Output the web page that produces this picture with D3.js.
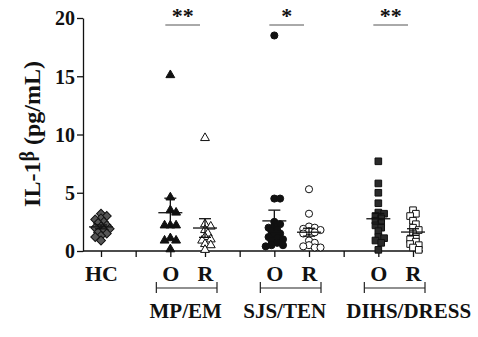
<!DOCTYPE html>
<html>
<head>
<meta charset="utf-8">
<script src="https://cdn.jsdelivr.net/npm/d3@7"></script>
<style>
  body { margin: 0; background: #fff; }
  text { font-family: "Liberation Serif", "Times New Roman", serif; font-weight: bold; fill: #111; }
</style>
</head>
<body>
<div id="chart"></div>
<script>
var width = 478, height = 337;

// x positions: one slot per column, empty slots are the separators
var slots = ["HC", "s1", "MP_O", "MP_R", "s2", "SJS_O", "SJS_R", "s3", "DIHS_O", "DIHS_R"];
var slotLabels = {HC: "HC", MP_O: "O", MP_R: "R", SJS_O: "O", SJS_R: "R", DIHS_O: "O", DIHS_R: "R"};
var groups = ["MP/EM", "SJS/TEN", "DIHS/DRESS"];
var groupSlots = [["MP_O", "MP_R"], ["SJS_O", "SJS_R"], ["DIHS_O", "DIHS_R"]];
var signif = ["**", "*", "**"];
var yTicks = [0, 5, 10, 15, 20];

// IL-1beta values (pg/mL)
var hc = [3.2, 3.0, 2.8, 2.7, 2.5, 2.4, 2.2, 2.1, 2.0, 1.9, 1.8, 1.6, 1.5, 1.3, 1.2, 0.9];
var mpO = [15.1, 4.6, 3.5, 3.3, 2.2, 2.2, 2.2, 1.1, 0.9, 0.9, 0.15];
var mpR = [9.7, 2.3, 2.1, 1.8, 1.5, 1.2, 1.0, 0.9, 0.6, 0.5, 0.1];
var sjsO = [18.5, 4.5, 4.5, 2.5, 2.3, 2.1, 2.0, 1.8, 1.7, 1.5, 1.4, 1.2, 1.1, 1.0, 0.9, 0.7, 0.5, 0.5, 0.4];
var sjsR = [5.3, 3.2, 2.1, 2.0, 1.9, 1.8, 1.7, 1.6, 1.5, 0.9, 0.7, 0.5, 0.4, 0.3, 0.3];
var dihsO = [7.7, 5.8, 5.0, 4.1, 3.3, 3.2, 3.0, 2.8, 2.6, 2.4, 2.2, 2.0, 1.7, 1.2, 1.1, 0.9, 0.7, 0.1];
var dihsR = [3.5, 3.2, 3.0, 2.6, 2.3, 2.0, 1.8, 1.5, 1.2, 1.0, 0.8, 0.6, 0.5, 0.3, 0.1];

var series = [
  {key: "HC", values: hc, shape: "diamond", fill: "#555"},
  {key: "MP_O", values: mpO, shape: "triangle", fill: "#111"},
  {key: "MP_R", values: mpR, shape: "triangle", fill: "#fff"},
  {key: "SJS_O", values: sjsO, shape: "circle", fill: "#111"},
  {key: "SJS_R", values: sjsR, shape: "circle", fill: "#fff"},
  {key: "DIHS_O", values: dihsO, shape: "square", fill: "#2a2a2a"},
  {key: "DIHS_R", values: dihsR, shape: "square", fill: "#fff"}
];

var svg = d3.select("#chart").append("svg")
  .attr("width", width)
  .attr("height", height);

var x = d3.scalePoint().domain(slots).range([101, 413]);
var y = d3.scaleLinear().domain([0, 20]).range([251, 18]);
var axisLeftX = 83, axisRightX = 423;

// y axis
var yAxis = svg.append("g")
  .attr("transform", "translate(" + axisLeftX + ",0)")
  .call(d3.axisLeft(y).tickValues(yTicks).tickSize(6).tickPadding(2).tickSizeOuter(0));
yAxis.selectAll("text").style("font-size", "20px").attr("dy", "0.34em");
yAxis.selectAll("line, path").style("stroke", "#111").style("stroke-width", 1.3);

// x axis
var xAxis = svg.append("g")
  .attr("transform", "translate(0," + y(0) + ")")
  .call(d3.axisBottom(x).tickSize(6).tickPadding(8)
    .tickFormat(function(d){ return slotLabels[d] || ""; }));
xAxis.select(".domain").remove();
xAxis.append("line")
  .attr("x1", axisLeftX).attr("x2", axisRightX)
  .attr("y1", 0).attr("y2", 0);
xAxis.selectAll("line").style("stroke", "#111").style("stroke-width", 1.3);
xAxis.selectAll("text").style("font-size", "22px");

// y title
var title = svg.append("text")
  .attr("transform", "translate(40,134) rotate(-90)")
  .attr("text-anchor", "middle")
  .style("font-size", "24px");
title.append("tspan").text("IL-1");
title.append("tspan").text("\u03B2").style("font-size", "20px").attr("dy", -6);
title.append("tspan").text(" (pg/mL)").attr("dy", 6);

// group brackets and labels
var labelShift = [-2, -7, 13];
groupSlots.forEach(function(gs, i){
  var x0 = x(gs[0]) - 14, x1 = x(gs[1]) + 12, by = 288;
  var b = svg.append("g").style("stroke", "#222").style("stroke-width", 1.2);
  b.append("line").attr("x1", x0).attr("x2", x1).attr("y1", by).attr("y2", by);
  b.append("line").attr("x1", x0).attr("x2", x0).attr("y1", by - 6).attr("y2", by + 5);
  b.append("line").attr("x1", x1).attr("x2", x1).attr("y1", by - 6).attr("y2", by + 5);
  svg.append("text")
    .attr("x", (x(gs[0]) + x(gs[1])) / 2 + labelShift[i])
    .attr("y", 318)
    .attr("text-anchor", "middle")
    .style("font-size", "21px")
    .text(groups[i]);

  // significance marks
  var sx0 = x(gs[0]) - 5, sx1 = x(gs[1]) - 5, sy = 25;
  svg.append("line")
    .attr("x1", sx0).attr("x2", sx1)
    .attr("y1", sy).attr("y2", sy)
    .style("stroke", "#555").style("stroke-width", 1);
  svg.append("text")
    .attr("x", (sx0 + sx1) / 2)
    .attr("y", 23)
    .attr("text-anchor", "middle")
    .style("font-size", "22px")
    .text(signif[i]);
});

// simple beeswarm so the points spread sideways a little
var beeswarm = function(values, r){
  var placed = [];
  var sorted = values.slice().sort(function(a, b){ return b - a; });
  sorted.forEach(function(v){
    var py = y(v), dx = 0;
    for (var k = 0; k < 40; k++) {
      dx = (k % 2 ? 1 : -1) * Math.ceil(k / 2) * r * 0.8;
      var hit = placed.some(function(p){
        var ddx = p.dx - dx, ddy = p.y - py;
        return ddx * ddx + ddy * ddy < (r * 1.2) * (r * 1.2);
      });
      if (!hit) break;
    }
    placed.push({v: v, y: py, dx: dx});
  });
  return placed;
};

var symbolFor = {
  triangle: d3.symbol().type(d3.symbolTriangle).size(34),
  circle: d3.symbol().type(d3.symbolCircle).size(40),
  square: d3.symbol().type(d3.symbolSquare).size(44),
  diamond: d3.symbol().type(d3.symbolSquare).size(40)
};

series.forEach(function(s){
  var cx = x(s.key);
  var pts = beeswarm(s.values, 3.6);
  svg.append("g").selectAll("path")
    .data(pts)
    .enter().append("path")
    .attr("d", symbolFor[s.shape]())
    .attr("transform", function(p){
      return "translate(" + (cx + p.dx) + "," + p.y + ")" + (s.shape == "diamond" ? " rotate(45)" : "");
    })
    .style("fill", s.fill)
    .style("stroke", "#111")
    .style("stroke-width", 1);

  // mean +- SEM
  var m = d3.mean(s.values);
  var sem = d3.deviation(s.values) / Math.sqrt(s.values.length);
  var e = svg.append("g").style("stroke", "#111").style("stroke-width", 1.3);
  e.append("line").attr("x1", cx).attr("x2", cx).attr("y1", y(m - sem)).attr("y2", y(m + sem));
  e.append("line").attr("x1", cx - 12).attr("x2", cx + 12).attr("y1", y(m)).attr("y2", y(m));
  [m - sem, m + sem].forEach(function(v){
    e.append("line").attr("x1", cx - 6).attr("x2", cx + 6).attr("y1", y(v)).attr("y2", y(v));
  });
});
</script>
</body>
</html>
